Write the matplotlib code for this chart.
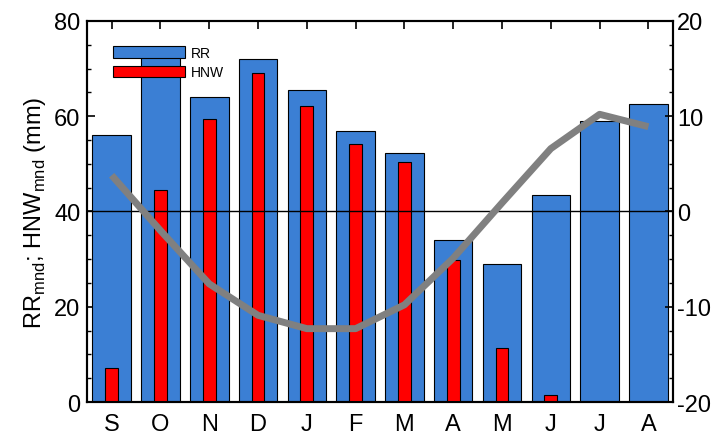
import numpy as np
import matplotlib.pyplot as plt
from matplotlib.ticker import MultipleLocator

plt.rcParams['font.family'] = ['Liberation Sans', 'DejaVu Sans']
plt.rcParams['axes.unicode_minus'] = False

months = ['S', 'O', 'N', 'D', 'J', 'F', 'M', 'A', 'M', 'J', 'J', 'A']
rr = [56.1, 72.4, 64.1, 72.0, 65.4, 56.9, 52.3, 34.0, 28.9, 43.5, 58.9, 62.6]
hnw = [7.1, 44.6, 59.4, 69.0, 62.2, 54.2, 50.4, 29.9, 11.4, 1.5, 0.0, 0.0]
temp = [3.8, -2.0, -7.6, -10.9, -12.3, -12.3, -9.8, -4.9, 0.9, 6.6, 10.2, 8.9]

x = np.arange(len(months))

fig = plt.figure(figsize=(7.15, 4.39), dpi=100)
ax = fig.add_axes([0.122, 0.082, 0.819, 0.868])

ax.bar(x, rr, width=0.79, color='#3b7fd4', edgecolor='black', linewidth=0.8, label='RR', zorder=2)
ax.bar(x, hnw, width=0.26, color='#ff0000', edgecolor='black', linewidth=0.8, label='HNW', zorder=3)
ax.axhline(40, color='black', linewidth=1, zorder=4)

ax.set_xlim(-0.5, 11.5)
ax.set_ylim(0, 80)
ax.set_xticks(x)
ax.set_xticklabels(months)
ax.yaxis.set_major_locator(MultipleLocator(20))
ax.yaxis.set_minor_locator(MultipleLocator(5))
ax.tick_params(axis='both', which='major', labelsize=17, direction='in', length=6, width=1.2, top=True)
ax.tick_params(axis='y', which='minor', direction='in', length=3, width=1)
ax.tick_params(axis='x', which='major', bottom=False, pad=8)
ax.tick_params(axis='y', which='major', pad=5)
ax.set_ylabel(r'RR$_\mathregular{mnd}$; HNW$_\mathregular{mnd}$ (mm)', fontsize=17, labelpad=4)
for s in ax.spines.values():
    s.set_linewidth(1.5)

ax.legend(loc='upper left', bbox_to_anchor=(0.044, 0.935), frameon=False, fontsize=10,
          handlelength=5.2, handleheight=0.95, labelspacing=0.4, handletextpad=0.4,
          borderaxespad=0.0, borderpad=0.0)

ax2 = ax.twinx()
ax2.plot(x, temp, color='#808080', linewidth=5, solid_capstyle='butt', zorder=5)
ax2.set_ylim(-20, 20)
ax2.yaxis.set_major_locator(MultipleLocator(10))
ax2.yaxis.set_minor_locator(MultipleLocator(2.5))
ax2.tick_params(axis='y', which='major', labelsize=17, direction='in', length=6, width=1.2, pad=3)
ax2.tick_params(axis='y', which='minor', direction='in', length=3, width=1)
for s in ax2.spines.values():
    s.set_linewidth(1.5)

fig.savefig('out.png', dpi=100)
